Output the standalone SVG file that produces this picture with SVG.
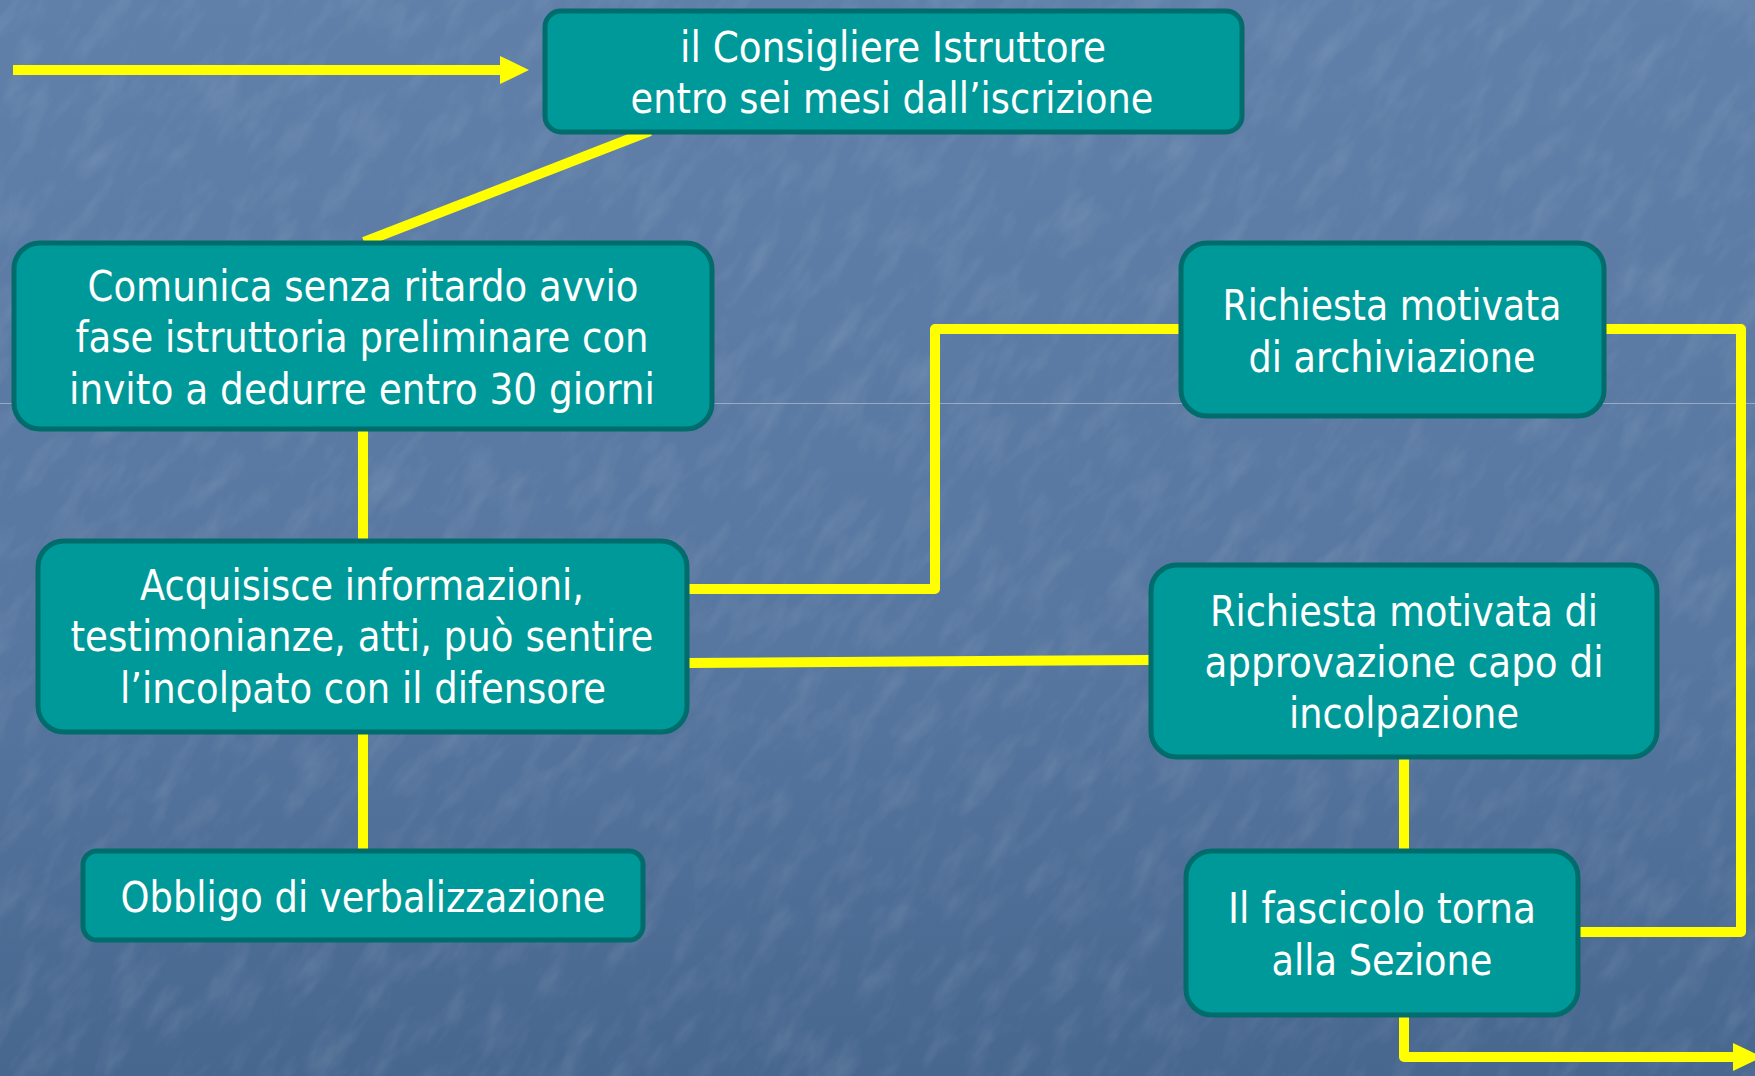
<svg xmlns="http://www.w3.org/2000/svg" width="1755" height="1076" viewBox="0 0 1755 1076">
  <defs>
    <linearGradient id="bg" x1="0" y1="0" x2="0" y2="1">
      <stop offset="0" stop-color="#6080a9"/>
      <stop offset="0.6" stop-color="#5877a0"/>
      <stop offset="1" stop-color="#48678f"/>
    </linearGradient>
    <filter id="tex" x="0" y="0" width="100%" height="100%">
      <feTurbulence type="fractalNoise" baseFrequency="0.018 0.045" numOctaves="4" seed="11"/>
      <feColorMatrix type="matrix" values="0 0 0 0 1  0 0 0 0 1  0 0 0 0 1  1.5 0 0 0 -0.68"/>
    </filter>
    <marker id="arrow" markerUnits="userSpaceOnUse" markerWidth="30" markerHeight="30" refX="0" refY="14" orient="auto" viewBox="0 0 30 28">
      <path d="M0,0 L29,14 L0,28 Z" fill="#ffff00"/>
    </marker>
    <style>
      .node rect { fill: #009999; stroke: #006c6c; stroke-width: 5; }
      .node text { fill: #ffffff; font-family: "DejaVu Sans Condensed", "DejaVu Sans", sans-serif; font-size: 42px; text-anchor: middle; }
      .conn { fill: none; stroke: #ffff00; stroke-width: 10; stroke-linejoin: round; stroke-linecap: butt; }
    </style>
  </defs>

  <g id="background">
    <rect x="0" y="0" width="1755" height="1076" fill="url(#bg)"/>
    <g transform="rotate(-55 877 538)" opacity="0.13">
      <rect x="-600" y="-600" width="2955" height="2276" filter="url(#tex)"/>
    </g>
    <line x1="0" y1="403.5" x2="1755" y2="403.5" stroke="#c8d2de" stroke-opacity="0.55" stroke-width="1"/>
  </g>

  <g id="connectors">
    <line class="conn" x1="13" y1="70" x2="500" y2="70" marker-end="url(#arrow)"/>
    <line class="conn" x1="650" y1="131" x2="364" y2="242"/>
    <line class="conn" x1="363" y1="429" x2="363" y2="540"/>
    <line class="conn" x1="363" y1="732" x2="363" y2="851"/>
    <polyline class="conn" points="687,589 935,589 935,329 1181,329"/>
    <line class="conn" x1="687" y1="663" x2="1151" y2="660"/>
    <polyline class="conn" points="1604,329 1741,329 1741,932 1578,932"/>
    <line class="conn" x1="1404" y1="757" x2="1404" y2="851"/>
    <polyline class="conn" points="1404,1015 1404,1057 1733,1057" marker-end="url(#arrow)"/>
  </g>

  <g id="node-consigliere" class="node">
    <rect x="545" y="11" width="697" height="121" rx="16"/>
    <text x="893" y="62" textLength="426" lengthAdjust="spacingAndGlyphs">il Consigliere Istruttore</text>
    <text x="892" y="113" textLength="523" lengthAdjust="spacingAndGlyphs">entro sei mesi dall’iscrizione</text>
  </g>

  <g id="node-comunica" class="node">
    <rect x="14" y="243" width="698" height="186" rx="26"/>
    <text x="363" y="301" textLength="551" lengthAdjust="spacingAndGlyphs">Comunica senza ritardo avvio</text>
    <text x="362" y="352" textLength="573" lengthAdjust="spacingAndGlyphs">fase istruttoria preliminare con</text>
    <text x="362" y="404" textLength="586" lengthAdjust="spacingAndGlyphs">invito a dedurre entro 30 giorni</text>
  </g>

  <g id="node-acquisisce" class="node">
    <rect x="38" y="541" width="649" height="191" rx="26"/>
    <text x="362" y="600" textLength="444" lengthAdjust="spacingAndGlyphs">Acquisisce informazioni,</text>
    <text x="362" y="651" textLength="583" lengthAdjust="spacingAndGlyphs">testimonianze, atti, può sentire</text>
    <text x="363" y="703" textLength="486" lengthAdjust="spacingAndGlyphs">l’incolpato con il difensore</text>
  </g>

  <g id="node-obbligo" class="node">
    <rect x="83" y="851" width="560" height="89" rx="14"/>
    <text x="363" y="912" textLength="485" lengthAdjust="spacingAndGlyphs">Obbligo di verbalizzazione</text>
  </g>

  <g id="node-archiviazione" class="node">
    <rect x="1181" y="243" width="423" height="173" rx="26"/>
    <text x="1392" y="320" textLength="339" lengthAdjust="spacingAndGlyphs">Richiesta motivata</text>
    <text x="1392" y="372" textLength="287" lengthAdjust="spacingAndGlyphs">di archiviazione</text>
  </g>

  <g id="node-approvazione" class="node">
    <rect x="1151" y="565" width="506" height="192" rx="26"/>
    <text x="1404" y="626" textLength="388" lengthAdjust="spacingAndGlyphs">Richiesta motivata di</text>
    <text x="1404" y="677" textLength="399" lengthAdjust="spacingAndGlyphs">approvazione capo di</text>
    <text x="1404" y="728" textLength="230" lengthAdjust="spacingAndGlyphs">incolpazione</text>
  </g>

  <g id="node-fascicolo" class="node">
    <rect x="1186" y="851" width="392" height="164" rx="26"/>
    <text x="1382" y="923" textLength="308" lengthAdjust="spacingAndGlyphs">Il fascicolo torna</text>
    <text x="1382" y="975" textLength="221" lengthAdjust="spacingAndGlyphs">alla Sezione</text>
  </g>
</svg>
